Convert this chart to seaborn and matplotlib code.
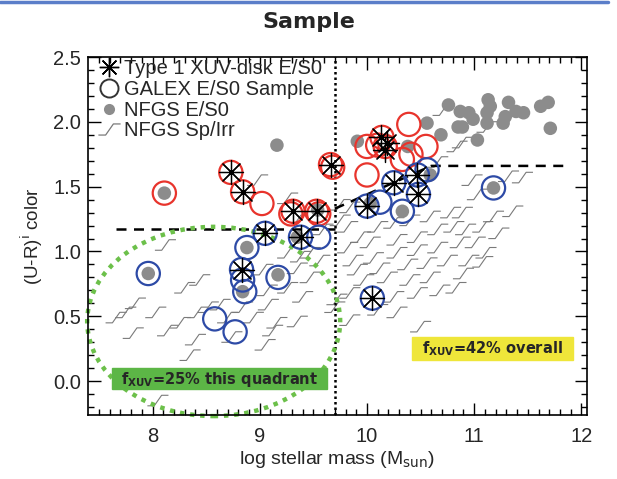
import numpy as np
import pandas as pd
import seaborn as sns
import matplotlib.pyplot as plt
from matplotlib.path import Path
from matplotlib.lines import Line2D
from matplotlib.patches import Ellipse, Rectangle

# NFGS Sp/Irr galaxies (stepped markers)
sp_mass = [8.12, 8.44, 8.30, 7.84, 7.75, 7.66, 8.03, 7.82, 8.14, 8.26, 8.42, 8.52, 8.40, 8.35, 8.05,
           8.98, 9.26, 9.35, 9.59, 9.26, 9.38, 9.47, 9.03, 9.35, 9.56, 9.47, 9.07, 9.26, 9.40, 8.63,
           8.84, 9.08, 8.70, 8.94, 9.16, 9.35, 9.12, 8.74, 9.05, 9.70, 10.71, 10.84, 10.66, 9.84, 9.75,
           9.82, 10.10, 9.94, 10.25, 10.40, 10.59, 10.78, 9.82, 10.03, 10.28, 10.47, 10.66, 10.81, 9.87,
           10.06, 10.28, 10.47, 10.66, 9.91, 10.12, 10.38, 10.56, 10.75, 9.97, 10.19, 10.40, 10.59, 9.84,
           10.25, 10.47, 10.68, 10.10, 10.28, 9.84, 10.50, 9.72, 10.89, 11.12, 10.98, 11.32, 11.45, 11.03,
           10.89, 11.18, 11.36, 10.92, 11.08, 11.23, 10.87, 11.01, 11.11, 10.95, 11.08, 10.90, 10.83, 9.75]
sp_color = [1.05, 0.78, 0.72, 0.60, 0.53, 0.49, 0.53, 0.37, 0.39, 0.45, 0.53, 0.57, 0.32, 0.20, -0.15,
            1.55, 1.41, 1.24, 1.17, 0.99, 0.96, 0.99, 0.86, 0.87, 0.93, 0.80, 0.70, 0.72, 0.65, 0.59,
            0.57, 0.59, 0.49, 0.49, 0.45, 0.46, 0.39, 0.34, 0.28, 0.57, 2.09, 1.81, 1.69, 1.34, 1.24,
            1.19, 1.19, 1.11, 1.22, 1.24, 1.27, 1.30, 1.03, 1.07, 1.09, 1.11, 1.17, 1.19, 0.93,
            0.95, 0.99, 1.01, 1.03, 0.86, 0.87, 0.90, 0.91, 0.93, 0.78, 0.80, 0.78, 0.80, 0.68,
            0.65, 0.68, 0.70, 0.55, 0.53, 0.47, 0.42, 0.63, 1.84, 1.96, 1.55, 1.58, 1.57, 1.44,
            1.30, 1.27, 1.31, 1.17, 1.19, 1.14, 1.07, 1.07, 0.99, 0.93, 0.92, 0.83, 0.72, 1.36]

# NFGS E/S0 galaxies (grey dots)
es0_mass = [8.11, 7.96, 9.16, 8.88, 9.17, 8.84, 9.35, 9.54, 9.91, 10.33, 10.03, 10.59, 10.38, 10.76,
            10.85, 10.69, 10.56, 10.87, 10.95, 10.99, 10.89, 11.12, 11.13, 11.15, 11.12, 11.32, 11.29,
            11.39, 11.46, 11.27, 11.62, 11.69, 11.71, 11.03, 11.18]
es0_color = [1.45, 0.83, 1.82, 1.03, 0.82, 0.69, 1.11, 1.32, 1.85, 1.31, 1.37, 1.59, 1.81, 2.13,
             1.96, 1.90, 1.99, 2.08, 2.07, 2.02, 1.96, 1.99, 2.17, 2.12, 2.07, 2.15, 2.04,
             2.08, 2.07, 1.99, 2.12, 2.15, 1.95, 1.86, 1.49]

# GALEX E/S0 sample, red sequence (red circles)
red_mass = [8.11, 8.73, 8.84, 9.02, 9.31, 9.29, 9.53, 9.55, 9.66, 9.68, 10.00, 10.10, 10.14, 10.17,
            10.39, 10.55, 10.41, 10.33, 10.00]
red_color = [1.45, 1.61, 1.46, 1.37, 1.31, 1.29, 1.31, 1.29, 1.67, 1.65, 1.81, 1.82, 1.88, 1.81,
             1.98, 1.81, 1.75, 1.71, 1.59]

# GALEX E/S0 sample, blue sequence (blue circles)
blue_mass = [7.96, 9.05, 8.88, 8.83, 8.84, 8.86, 9.17, 9.38, 9.55, 8.58, 8.77, 10.05, 10.00, 10.12,
             10.25, 10.47, 10.56, 10.48, 10.33, 11.18]
blue_color = [0.83, 1.14, 1.03, 0.86, 0.78, 0.69, 0.80, 1.11, 1.11, 0.48, 0.38, 0.64, 1.35, 1.38,
              1.53, 1.59, 1.63, 1.44, 1.31, 1.49]

# Type 1 XUV-disk E/S0 (asterisks)
xuv_mass = [8.73, 8.84, 9.31, 9.53, 9.66, 9.05, 8.83, 9.38, 10.05, 10.00, 10.25, 10.47, 10.48,
            10.13, 10.19, 10.17]
xuv_color = [1.61, 1.46, 1.31, 1.31, 1.67, 1.14, 0.86, 1.11, 0.64, 1.35, 1.53, 1.59, 1.44,
             1.88, 1.84, 1.78]

# dividing lines
mass_cut = 9.7
low_div_x = [7.66, 9.7]
low_div_y = [1.17, 1.17]
high_div_x = [9.7, 10.6, 11.85]
high_div_y = [1.33, 1.66, 1.66]

red = "#e8342c"
blue = "#2d4aa6"
grey = "#8c8c8c"

sns.set_style("white")
plt.rcParams["font.family"] = ["Liberation Sans", "DejaVu Sans"]

step = Path([(-1.0, -0.5), (-0.35, -0.5), (0.35, 0.5), (1.0, 0.5)],
            [Path.MOVETO, Path.LINETO, Path.LINETO, Path.LINETO])

fig = plt.figure(figsize=(6.17, 4.79), dpi=100)
ax = fig.add_axes([0.143, 0.134, 0.808, 0.747])

sp = pd.DataFrame({"mass": sp_mass, "color": sp_color})
es0 = pd.DataFrame({"mass": es0_mass, "color": es0_color})
reds = pd.DataFrame({"mass": red_mass, "color": red_color})
blues = pd.DataFrame({"mass": blue_mass, "color": blue_color})
xuv = pd.DataFrame({"mass": xuv_mass, "color": xuv_color})

sns.scatterplot(data=sp, x="mass", y="color", marker=step, s=230, facecolors="none",
                edgecolor="#7a7a7a", linewidth=0.8, ax=ax, zorder=1, legend=False)
sns.scatterplot(data=es0, x="mass", y="color", marker="o", s=95, color=grey,
                edgecolor="none", ax=ax, zorder=3, legend=False)
sns.scatterplot(data=reds, x="mass", y="color", marker="o", s=280, facecolors="none",
                edgecolor=red, linewidth=1.6, ax=ax, zorder=4, legend=False)
sns.scatterplot(data=blues, x="mass", y="color", marker="o", s=280, facecolors="none",
                edgecolor=blue, linewidth=1.6, ax=ax, zorder=4, legend=False)
sns.scatterplot(data=xuv, x="mass", y="color", marker=(8, 2, 0), s=300, color="black",
                linewidth=0.9, ax=ax, zorder=5, legend=False)

ax.plot(low_div_x, low_div_y, color="black", ls=(0, (4, 3)), lw=1.8, zorder=2)
ax.plot(high_div_x, high_div_y, color="black", ls=(0, (4, 3)), lw=1.8, zorder=2)
ax.axvline(mass_cut, color="black", ls=(0, (1, 1.2)), lw=1.8, zorder=2)

ax.add_patch(Ellipse((8.57, 0.46), 2.36, 1.46, fill=False, edgecolor="#6cc04a",
                     ls=(0, (1, 1.3)), lw=3.2, zorder=2, clip_on=False))

ax.add_patch(Rectangle((0.048, 0.073), 0.431, 0.058, transform=ax.transAxes,
                       color="#5cb646", zorder=6))
ax.text(0.2635, 0.100, r"f$_{\mathbf{XUV}}$=25% this quadrant", transform=ax.transAxes,
        ha="center", va="center", fontsize=10.5, fontweight="bold", family="DejaVu Sans", zorder=7)
ax.add_patch(Rectangle((0.649, 0.154), 0.323, 0.064, transform=ax.transAxes,
                       color="#efe63a", zorder=6))
ax.text(0.8105, 0.184, r"f$_{\mathbf{XUV}}$=42% overall", transform=ax.transAxes,
        ha="center", va="center", fontsize=10.5, fontweight="bold", family="DejaVu Sans", zorder=7)

ax.set_xlim(7.4, 12.05)
ax.set_ylim(-0.26, 2.5)
ax.set_xticks([8, 9, 10, 11, 12])
ax.set_yticks([0.0, 0.5, 1.0, 1.5, 2.0, 2.5])
ax.set_yticklabels(["0.0", "0.5", "1.0", "1.5", "2.0", "2.5"])
ax.set_xticks(np.arange(7.5, 12.05, 0.1), minor=True)
ax.set_yticks(np.arange(-0.2, 2.5, 0.1), minor=True)
ax.tick_params(which="both", direction="in", bottom=True, left=True, top=True, right=True,
               labelsize=14.5, color="black")
ax.tick_params(which="major", length=9, width=1)
ax.tick_params(which="minor", length=4.5, width=1)
ax.tick_params(axis="x", pad=9)
ax.tick_params(axis="y", pad=5)
for s in ax.spines.values():
    s.set_color("black")
    s.set_linewidth(1.2)
ax.set_xlabel(r"log stellar mass (M$_{\rm sun}$)", fontsize=14, labelpad=2)
ax.set_ylabel(r"(U-R)$^{\rm i}$ color", fontsize=13.5, labelpad=6)

handles = [
    Line2D([], [], ls="none", marker=(8, 2, 0), ms=14, color="black", mew=1.0),
    Line2D([], [], ls="none", marker="o", ms=13, mfc="none", mec="#333333", mew=1.4),
    Line2D([], [], ls="none", marker="o", ms=8, color=grey, mec="none"),
    Line2D([], [], ls="none", marker=step, ms=16, mfc="none", mec="#7a7a7a", mew=0.9),
]
labels = ["Type 1 XUV-disk E/S0", "GALEX E/S0 Sample", "NFGS E/S0", "NFGS Sp/Irr"]
ax.legend(handles, labels, loc="upper left", bbox_to_anchor=(-0.005, 1.027), frameon=False,
          fontsize=14.5, handlelength=1.1, handletextpad=0.2, labelspacing=0.08,
          borderaxespad=0.2)

fig.text(0.5, 0.955, "Sample", ha="center", va="center", fontsize=16, fontweight="heavy",
         family="DejaVu Sans")
fig.add_artist(Line2D([0.0, 0.985], [0.996, 0.996], color="#5b7ec9", lw=2.5))

fig.savefig("out.png", dpi=100)
